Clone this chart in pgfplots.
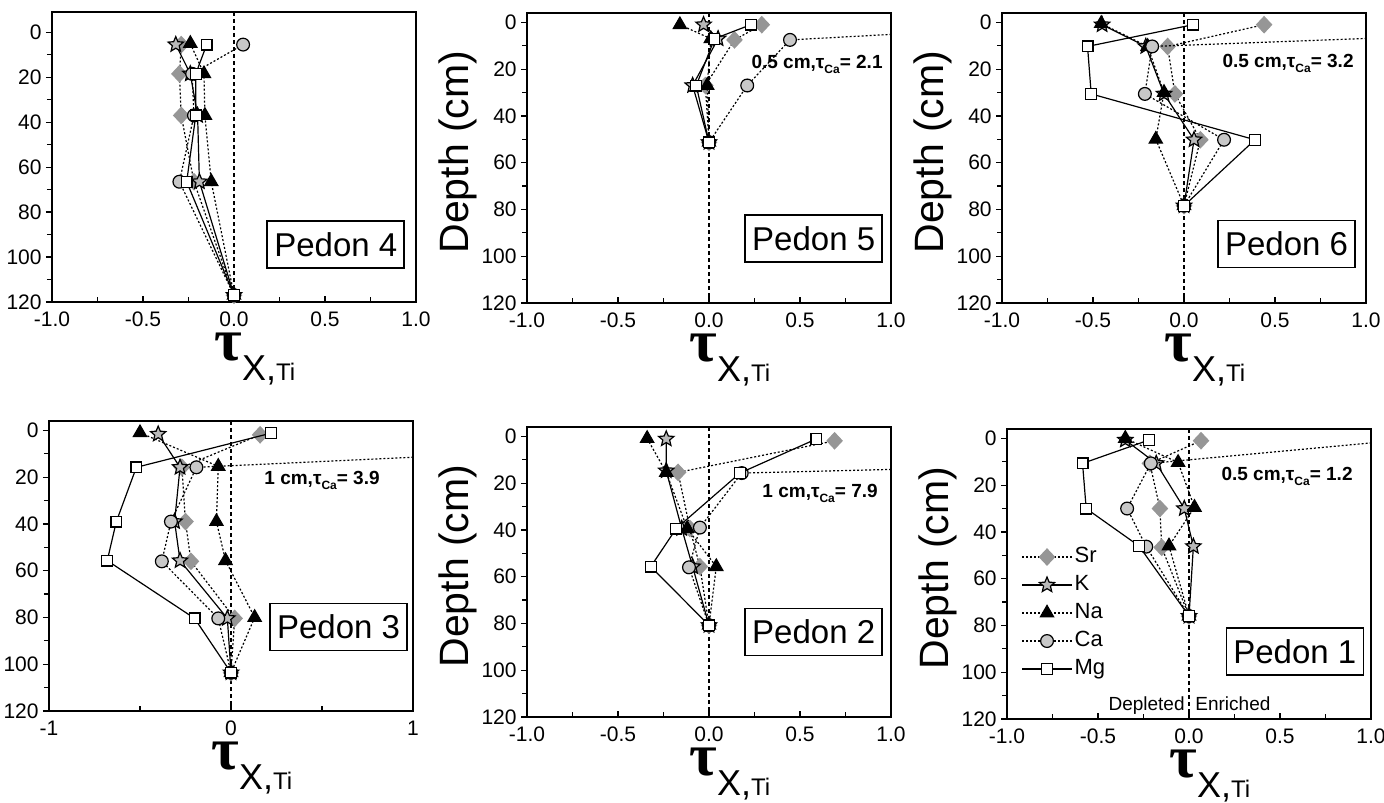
\documentclass[border=0pt]{standalone}
\usepackage{fontspec}
\setmainfont{Liberation Sans}
\newfontfamily\taufont{Liberation Serif}
\usepackage{pgfplots}
\pgfplotsset{compat=1.18}

\definecolor{srgray}{RGB}{150,150,150}
\definecolor{cagray}{RGB}{200,200,200}
\definecolor{kgray}{RGB}{185,185,185}

\pgfdeclareplotmark{fstar}{%
  \pgfpathmoveto{\pgfpointpolar{90}{\pgfplotmarksize}}%
  \pgfpathlineto{\pgfpointpolar{126}{0.45\pgfplotmarksize}}%
  \pgfpathlineto{\pgfpointpolar{162}{\pgfplotmarksize}}%
  \pgfpathlineto{\pgfpointpolar{198}{0.45\pgfplotmarksize}}%
  \pgfpathlineto{\pgfpointpolar{234}{\pgfplotmarksize}}%
  \pgfpathlineto{\pgfpointpolar{270}{0.45\pgfplotmarksize}}%
  \pgfpathlineto{\pgfpointpolar{306}{\pgfplotmarksize}}%
  \pgfpathlineto{\pgfpointpolar{342}{0.45\pgfplotmarksize}}%
  \pgfpathlineto{\pgfpointpolar{18}{\pgfplotmarksize}}%
  \pgfpathlineto{\pgfpointpolar{54}{0.45\pgfplotmarksize}}%
  \pgfpathclose
  \pgfusepathqfillstroke}

\newcommand\taulab{{\taufont\bfseries\fontsize{30}{30}\selectfont τ}\raisebox{-10pt}{\fontsize{18}{18}\selectfont X,\fontsize{12}{12}\selectfont Ti}}
\newcommand\cann[1]{\fontsize{9.5}{9.5}\selectfont\bfseries #1}
\newcommand\tca{τ\raisebox{-2.5pt}{\fontsize{6}{6}\selectfont Ca}}

\tikzset{
  pbox/.style={draw, line width=0.8pt, anchor=south east, minimum height=23.5pt, minimum width=68.5pt, inner sep=0pt, font=\fontsize{16.5}{16.5}\selectfont},
  dlab/.style={rotate=90, font=\fontsize{20.5}{20.5}\selectfont},
  tlab/.style={anchor=base west, inner sep=0pt},
}

\pgfplotsset{
  pedon/.style={
    scale only axis, width=182pt, height=145pt,
    xmin=-1, xmax=1, ymin=-4, ymax=120, y dir=reverse,
    axis line style={line width=0.7pt},
    ytick={0,20,...,120}, minor ytick={10,30,...,110},
    xtick={-1,-0.5,...,1}, minor xtick={-0.75,-0.25,0.25,0.75},
    xtick pos=bottom, ytick pos=left,
    xtick align=inside, ytick align=outside,
    major tick length=3pt, minor tick length=2.5pt,
    tick style={line width=0.6pt, black},
    tick label style={font=\fontsize{10.5}{10.5}\selectfont},
    yticklabel style={inner xsep=2pt},
    xticklabel style={yshift=-1.5pt},
    /pgf/number format/assume math mode=true,
    xticklabel style={/pgf/number format/.cd, fixed, fixed zerofill, precision=1},
    anchor=north west, clip=true, clip mode=individual,
  },
  sr/.style={black, line width=0.6pt, dash pattern=on 1pt off 1pt, mark=diamond*, mark size=4pt, mark options={solid, fill=srgray, draw=srgray, xscale=1.25}},
  kk/.style={black, line width=0.6pt, solid, mark=fstar, mark size=4pt, mark options={solid, fill=kgray, draw=black, line width=0.6pt}},
  na/.style={black, line width=0.6pt, dash pattern=on 1pt off 1pt, mark=triangle*, mark size=3.8pt, mark options={solid, fill=black, draw=black}},
  ca/.style={black, line width=0.6pt, dash pattern=on 1pt off 1pt, mark=*, mark size=3.2pt, mark options={solid, fill=cagray, draw=black, line width=0.6pt}},
  mg/.style={black, line width=0.6pt, solid, mark=square*, mark size=2.7pt, mark options={solid, fill=white, draw=black, line width=0.6pt}},
  zero/.style={black, line width=0.6pt, dash pattern=on 2pt off 1.5pt, no marks, forget plot},
}

\begin{document}
\begin{tikzpicture}
\useasboundingbox (0,0) rectangle (692pt,-401pt);

% ---------------- Pedon 4 ----------------
\begin{axis}[pedon, at={(26pt,-6pt)}, ymin=-9]
\addplot[zero] coordinates {(0,-9) (0,120)};
\addplot[sr] coordinates {(-0.29,5.5) (-0.30,18.5) (-0.29,37) (-0.22,66.5) (0,117)};
\addplot[kk] coordinates {(-0.32,5.5) (-0.24,18.5) (-0.20,37) (-0.19,66.5) (0,117)};
\addplot[na] coordinates {(-0.24,5) (-0.165,18.5) (-0.16,37) (-0.125,66.5) (0,117)};
\addplot[ca] coordinates {(0.05,5.5) (-0.23,18.5) (-0.22,37) (-0.30,66.5) (0,117)};
\addplot[mg] coordinates {(-0.15,5.5) (-0.21,18.5) (-0.21,37) (-0.26,66.5) (0,117)};
\node[pbox] at (axis description cs:0.97,0.114) {Pedon 4};
\node[tlab] at ([xshift=81pt,yshift=-29pt]axis description cs:0,0) {\taulab};
\end{axis}

% ---------------- Pedon 5 ----------------
\begin{axis}[pedon, at={(263.5pt,-6.5pt)}]
\addplot[zero] coordinates {(0,-4) (0,120)};
\addplot[sr] coordinates {(0.29,1) (0.14,7.5) (-0.02,27) (0,51.3)};
\addplot[kk] coordinates {(-0.03,1) (0.05,7) (-0.09,27) (0,51.3)};
\addplot[na] coordinates {(-0.16,1) (0.01,7) (-0.01,27) (0,51.3)};
\addplot[ca] coordinates {(2.1,0.5) (0.445,7.5) (0.21,27) (0,51.3)};
\addplot[mg] coordinates {(0.23,1) (0.03,7) (-0.07,27) (0,51.3)};
\node[anchor=base east, inner sep=0pt] at (axis cs:0.956,19.9) {\cann{0.5 cm,\tca= 2.1}};
\node[pbox] at (axis description cs:0.978,0.138) {Pedon 5};
\node[dlab] at ([xshift=-34.5pt]axis description cs:0,0.52) {Depth (cm)};
\node[tlab] at ([xshift=81pt,yshift=-29pt]axis description cs:0,0) {\taulab};
\end{axis}

% ---------------- Pedon 6 ----------------
\begin{axis}[pedon, at={(501pt,-6.5pt)}]
\addplot[zero] coordinates {(0,-4) (0,120)};
\addplot[sr] coordinates {(0.44,1) (-0.09,10.3) (-0.05,30.6) (0.09,50.2) (0,78.4)};
\addplot[kk] coordinates {(-0.45,1) (-0.21,10.3) (-0.11,30.6) (0.055,50.2) (0,78.4)};
\addplot[na] coordinates {(-0.455,0.5) (-0.2,10.3) (-0.11,30) (-0.155,50) (0,78.4)};
\addplot[ca] coordinates {(3.2,0.5) (-0.175,10.3) (-0.215,30.6) (0.22,50.2) (0,78.4)};
\addplot[mg] coordinates {(0.05,1) (-0.53,10.3) (-0.51,30.6) (0.39,50.2) (0,78.4)};
\node[anchor=base east, inner sep=0pt] at (axis cs:0.934,19.5) {\cann{0.5 cm,\tca= 3.2}};
\node[pbox] at (axis description cs:0.972,0.12) {Pedon 6};
\node[dlab] at ([xshift=-34.5pt]axis description cs:0,0.52) {Depth (cm)};
\node[tlab] at ([xshift=81pt,yshift=-29pt]axis description cs:0,0) {\taulab};
\end{axis}

% ---------------- Pedon 3 ----------------
\begin{axis}[pedon, at={(24.5pt,-210.5pt)}, xtick={-1,0,1}, xticklabels={-1,0,1}, minor xtick={-0.5,0.5}]
\addplot[zero] coordinates {(0,-4) (0,120)};
\addplot[sr] coordinates {(0.16,1.9) (-0.27,15.8) (-0.25,39) (-0.22,56) (0.02,80.4) (0,103.6)};
\addplot[kk] coordinates {(-0.40,1.6) (-0.28,15.8) (-0.31,39) (-0.28,55.7) (-0.02,80.4) (0,103.6)};
\addplot[na] coordinates {(-0.50,1) (-0.07,15.4) (-0.08,39) (-0.03,55.7) (0.13,80) (0,103.6)};
\addplot[ca] coordinates {(3.9,1) (-0.19,15.8) (-0.33,39) (-0.38,56) (-0.07,80.4) (0,103.6)};
\addplot[mg] coordinates {(0.22,1.2) (-0.52,15.8) (-0.63,39) (-0.68,55.7) (-0.20,80.4) (0,103.6)};
\node[anchor=base east, inner sep=0pt] at (axis cs:0.819,23.2) {\cann{1 cm,\tca= 3.9}};
\node[pbox] at (axis description cs:0.986,0.206) {Pedon 3};
\node[tlab] at ([xshift=81pt,yshift=-29pt]axis description cs:0,0) {\taulab};
\end{axis}

% ---------------- Pedon 2 ----------------
\begin{axis}[pedon, at={(263.5pt,-213.5pt)}]
\addplot[zero] coordinates {(0,-4) (0,120)};
\addplot[sr] coordinates {(0.69,1.9) (-0.17,15.4) (-0.105,39.4) (-0.05,55.7) (0,80.8)};
\addplot[kk] coordinates {(-0.235,1.1) (-0.235,14.7) (-0.15,39.4) (-0.09,55.7) (0,80.8)};
\addplot[na] coordinates {(-0.34,0.9) (-0.235,15.4) (-0.12,39.4) (0.04,55.7) (0,80.8)};
\addplot[ca] coordinates {(7.9,1) (0.18,15.7) (-0.05,39) (-0.11,56) (0,80.8)};
\addplot[mg] coordinates {(0.59,1.1) (0.17,15.7) (-0.18,39.4) (-0.32,55.7) (0,80.8)};
\node[anchor=base east, inner sep=0pt] at (axis cs:0.929,26) {\cann{1 cm,\tca= 7.9}};
\node[pbox] at (axis description cs:0.978,0.21) {Pedon 2};
\node[dlab] at ([xshift=-34.5pt]axis description cs:0,0.52) {Depth (cm)};
\node[tlab] at ([xshift=81pt,yshift=-29pt]axis description cs:0,0) {\taulab};
\end{axis}

% ---------------- Pedon 1 ----------------
\begin{axis}[pedon, at={(503.5pt,-214.5pt)},
  legend style={at={(axis description cs:0.022,0.622)}, anchor=north west, draw=none, fill=none,
    font=\fontsize{11}{11}\selectfont, nodes={inner sep=1pt, text height=8.5pt, text depth=3.5pt}},
  legend cell align=left,
  legend image code/.code={\draw[mark repeat=2,mark phase=2,#1] plot coordinates {(0pt,0pt) (12.5pt,0pt) (25pt,0pt)};}]
\addplot[zero] coordinates {(0,-4) (0,120)};
\addplot[sr] coordinates {(0.066,1) (-0.215,10.7) (-0.16,30) (-0.15,46.6) (0,76)};
\addplot[kk] coordinates {(-0.35,0.7) (-0.18,10.7) (-0.026,30) (0.024,46.2) (0,76)};
\addplot[na] coordinates {(-0.35,0) (-0.06,10.3) (0.03,29.5) (-0.11,46) (0,76)};
\addplot[ca] coordinates {(1.2,0.5) (-0.21,10.7) (-0.34,30) (-0.235,46.3) (0,76)};
\addplot[mg] coordinates {(-0.22,0.7) (-0.585,10.7) (-0.565,30) (-0.275,46) (0,76)};
\legend{Sr,K,Na,Ca,Mg}
\node[anchor=base east, inner sep=0pt] at (axis cs:0.901,18.1) {\cann{0.5 cm,\tca= 1.2}};
\node[pbox] at (axis description cs:0.981,0.148) {Pedon 1};
\node[anchor=base east, inner sep=0pt, font=\fontsize{9.5}{9.5}\selectfont] at (axis cs:-0.022,116.5) {Depleted};
\node[anchor=base west, inner sep=0pt, font=\fontsize{9.5}{9.5}\selectfont] at (axis cs:0.033,116.5) {Enriched};
\node[dlab] at ([xshift=-34.5pt]axis description cs:0,0.52) {Depth (cm)};
\node[tlab] at ([xshift=81pt,yshift=-29pt]axis description cs:0,0) {\taulab};
\end{axis}
\end{tikzpicture}
\end{document}
